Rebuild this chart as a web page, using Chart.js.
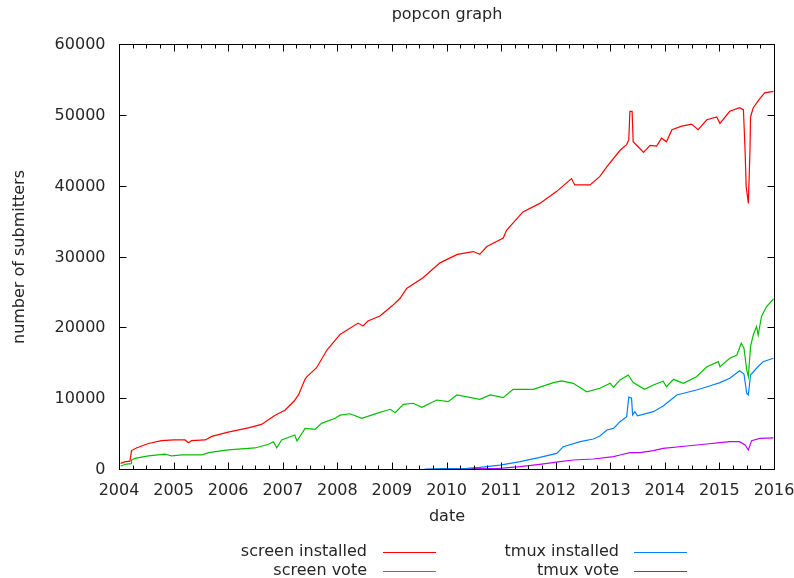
<!DOCTYPE html>
<html>
<head>
<meta charset="utf-8">
<title>popcon graph</title>
<script src="https://cdn.jsdelivr.net/npm/chart.js@4.4.0/dist/chart.umd.min.js"></script>
<style>
  html, body { margin:0; padding:0; background:#fff; }
  #wrap { width:794px; height:578px; }
</style>
</head>
<body>
<div id="wrap"><canvas id="popcon" width="794" height="578"></canvas></div>
<script>
// popcon graph: screen vs tmux submitters, 2004-2016
// values (decimal year, submitters)

const chartTitle = 'popcon graph';
const xTitle = 'date';
const yTitle = 'number of submitters';

const xTicks = [2004, 2005, 2006, 2007, 2008, 2009, 2010, 2011, 2012, 2013, 2014, 2015, 2016];
const yTicks = [0, 10000, 20000, 30000, 40000, 50000, 60000];

const seriesLabels = ['screen installed', 'screen vote', 'tmux installed', 'tmux vote'];
const seriesColors = ['#ff0000', '#00c000', '#0080ff', '#c000ff'];

const screenInstalledX = [2004.03, 2004.10, 2004.20, 2004.23, 2004.33, 2004.54, 2004.78, 2005.01, 2005.21, 2005.27, 2005.33, 2005.58, 2005.70, 2006.00, 2006.37, 2006.61, 2006.86, 2007.04, 2007.21, 2007.29, 2007.41, 2007.44, 2007.62, 2007.81, 2008.05, 2008.38, 2008.47, 2008.56, 2008.78, 2009.00, 2009.15, 2009.27, 2009.57, 2009.88, 2010.20, 2010.49, 2010.61, 2010.74, 2011.04, 2011.10, 2011.40, 2011.71, 2012.02, 2012.29, 2012.35, 2012.63, 2012.81, 2012.94, 2013.18, 2013.30, 2013.34, 2013.36, 2013.40, 2013.42, 2013.51, 2013.61, 2013.73, 2013.85, 2013.94, 2014.03, 2014.13, 2014.31, 2014.49, 2014.61, 2014.77, 2014.95, 2015.01, 2015.19, 2015.37, 2015.44, 2015.47, 2015.49, 2015.53, 2015.56, 2015.57, 2015.62, 2015.74, 2015.83, 2015.99];
const screenInstalledY = [800, 1000, 1100, 2600, 3000, 3600, 4000, 4100, 4100, 3700, 4000, 4100, 4600, 5200, 5800, 6300, 7600, 8300, 9600, 10500, 12700, 13000, 14300, 16800, 19000, 20600, 20200, 20900, 21600, 23000, 24100, 25500, 27000, 29100, 30300, 30700, 30300, 31400, 32600, 33700, 36300, 37500, 39200, 41000, 40100, 40100, 41300, 42700, 45000, 45800, 46500, 50500, 50500, 46200, 45500, 44700, 45700, 45600, 46700, 46200, 47900, 48400, 48700, 47900, 49300, 49700, 48800, 50500, 51000, 50700, 45000, 39900, 37500, 45000, 49700, 51000, 52300, 53100, 53300];

const screenVoteX = [2004.03, 2004.14, 2004.22, 2004.23, 2004.29, 2004.54, 2004.84, 2004.97, 2005.15, 2005.52, 2005.64, 2006.00, 2006.49, 2006.74, 2006.83, 2006.89, 2006.98, 2007.22, 2007.26, 2007.41, 2007.59, 2007.71, 2007.96, 2008.05, 2008.23, 2008.45, 2008.72, 2008.97, 2009.06, 2009.21, 2009.39, 2009.55, 2009.82, 2010.03, 2010.19, 2010.61, 2010.80, 2011.04, 2011.22, 2011.59, 2011.96, 2012.11, 2012.32, 2012.57, 2012.81, 2013.00, 2013.06, 2013.18, 2013.33, 2013.42, 2013.63, 2013.79, 2013.97, 2014.03, 2014.16, 2014.34, 2014.58, 2014.77, 2014.98, 2015.01, 2015.19, 2015.32, 2015.40, 2015.45, 2015.50, 2015.53, 2015.57, 2015.62, 2015.68, 2015.71, 2015.77, 2015.86, 2015.99];
const screenVoteY = [420, 700, 750, 1270, 1500, 1840, 2100, 1840, 2000, 2000, 2300, 2700, 2970, 3500, 3850, 3000, 4100, 4800, 3950, 5740, 5600, 6450, 7160, 7600, 7800, 7150, 7860, 8430, 7950, 9130, 9280, 8700, 9740, 9500, 10450, 9840, 10450, 10070, 11250, 11250, 12190, 12430, 12100, 10900, 11400, 12100, 11540, 12570, 13270, 12200, 11250, 11860, 12400, 11620, 12660, 12100, 13030, 14440, 15150, 14440, 15630, 16100, 17750, 17040, 13980, 13030, 17270, 18920, 20100, 18920, 21500, 22900, 24000];

const tmuxInstalledX = [2009.60, 2009.90, 2010.37, 2010.61, 2010.98, 2011.35, 2011.71, 2012.02, 2012.14, 2012.45, 2012.69, 2012.81, 2012.94, 2013.06, 2013.18, 2013.30, 2013.34, 2013.39, 2013.41, 2013.45, 2013.50, 2013.79, 2013.97, 2014.22, 2014.58, 2014.82, 2015.01, 2015.19, 2015.37, 2015.45, 2015.50, 2015.53, 2015.57, 2015.68, 2015.80, 2015.99];
const tmuxInstalledY = [0, 40, 100, 240, 560, 1030, 1650, 2210, 3150, 3860, 4240, 4660, 5500, 5740, 6680, 7380, 10150, 10000, 7620, 8090, 7500, 8090, 8900, 10450, 11150, 11720, 12190, 12800, 13880, 13410, 10690, 10450, 13270, 14220, 15150, 15630];

const tmuxVoteX = [2010.30, 2010.49, 2010.98, 2011.35, 2011.71, 2012.08, 2012.32, 2012.69, 2013.06, 2013.18, 2013.36, 2013.55, 2013.79, 2013.97, 2014.40, 2014.77, 2015.01, 2015.19, 2015.37, 2015.47, 2015.53, 2015.59, 2015.74, 2015.99];
const tmuxVoteY = [0, 40, 100, 330, 660, 1030, 1270, 1410, 1740, 1980, 2300, 2300, 2590, 2920, 3250, 3530, 3720, 3860, 3860, 3390, 2680, 4000, 4330, 4400];

const seriesX = [screenInstalledX, screenVoteX, tmuxInstalledX, tmuxVoteX];
const seriesY = [screenInstalledY, screenVoteY, tmuxInstalledY, tmuxVoteY];

const FONT = '16px "DejaVu Sans", sans-serif';
const INK = '#262626';

// gnuplot-like frame: border, inward ticks on all sides, labels, titles, legend
const gnuFrame = {
  id: 'gnuFrame',
  afterDatasetsDraw(chart) {
    const ctx = chart.ctx;
    const a = chart.chartArea;
    const xs = chart.scales.x, ys = chart.scales.y;
    const L = Math.round(a.left) + 0.5, R = Math.round(a.right) + 0.5;
    const T = Math.round(a.top) + 0.5, B = Math.round(a.bottom) + 0.5;
    ctx.save();
    ctx.strokeStyle = '#000';
    ctx.lineWidth = 1;
    ctx.beginPath();
    // x ticks (major + 3 minor per year), bottom and top
    for (let i = 0; i < xTicks.length; i++) {
      const px = Math.round(xs.getPixelForValue(xTicks[i])) + 0.5;
      ctx.moveTo(px, B); ctx.lineTo(px, B - 7);
      ctx.moveTo(px, T); ctx.lineTo(px, T + 7);
      if (i < xTicks.length - 1) {
        for (let q = 1; q < 4; q++) {
          const mx = Math.round(xs.getPixelForValue(xTicks[i] + q / 4)) + 0.5;
          ctx.moveTo(mx, B); ctx.lineTo(mx, B - 4);
          ctx.moveTo(mx, T); ctx.lineTo(mx, T + 4);
        }
      }
    }
    // y ticks, left and right
    for (const v of yTicks) {
      const py = Math.round(ys.getPixelForValue(v)) + 0.5;
      ctx.moveTo(L, py); ctx.lineTo(L + 7, py);
      ctx.moveTo(R, py); ctx.lineTo(R - 7, py);
    }
    ctx.stroke();
    ctx.strokeRect(L, T, R - L, B - T);

    ctx.fillStyle = INK;
    ctx.font = FONT;
    // tick labels
    ctx.textAlign = 'right'; ctx.textBaseline = 'middle';
    for (const v of yTicks) ctx.fillText(String(v), L - 14, ys.getPixelForValue(v) + 1);
    ctx.textAlign = 'center'; ctx.textBaseline = 'middle';
    for (const v of xTicks) ctx.fillText(String(v), xs.getPixelForValue(v), B + 21);

    // titles
    const cx = (L + R) / 2;
    ctx.fillText(chartTitle, cx, 15);
    ctx.fillText(xTitle, cx, 517);
    ctx.save();
    ctx.translate(20, (T + B) / 2);
    ctx.rotate(-Math.PI / 2);
    ctx.fillText(yTitle, 0, 0);
    ctx.restore();

    // legend: two columns, text then line sample
    const cols = [{ textRight: 367, x0: 383, x1: 436 }, { textRight: 619, x0: 634, x1: 687 }];
    const rows = [552, 571];
    chart.data.datasets.forEach((ds, i) => {
      const c = cols[Math.floor(i / 2)], y = rows[i % 2];
      ctx.textAlign = 'right';
      ctx.fillStyle = INK;
      ctx.fillText(ds.label, c.textRight, y);
      ctx.strokeStyle = seriesColors[i];
      ctx.beginPath();
      ctx.moveTo(c.x0, y + 0.5); ctx.lineTo(c.x1, y + 0.5);
      ctx.stroke();
    });
    ctx.restore();
  }
};

const datasets = seriesLabels.map((label, i) => ({
  label,
  data: seriesX[i].map((x, k) => ({ x, y: seriesY[i][k] })),
  borderColor: seriesColors[i],
  borderWidth: 1.2,
  pointRadius: 0,
  tension: 0,
  fill: false
}));

new Chart(document.getElementById('popcon'), {
  type: 'line',
  data: { datasets },
  options: {
    responsive: false,
    animation: false,
    layout: { padding: { left: 119, right: 20, top: 44, bottom: 109 } },
    plugins: { legend: { display: false }, title: { display: false }, tooltip: { enabled: false } },
    scales: {
      x: { type: 'linear', min: 2004, max: 2016, display: false },
      y: { type: 'linear', min: 0, max: 60000, display: false }
    }
  },
  plugins: [gnuFrame]
});
</script>
</body>
</html>
